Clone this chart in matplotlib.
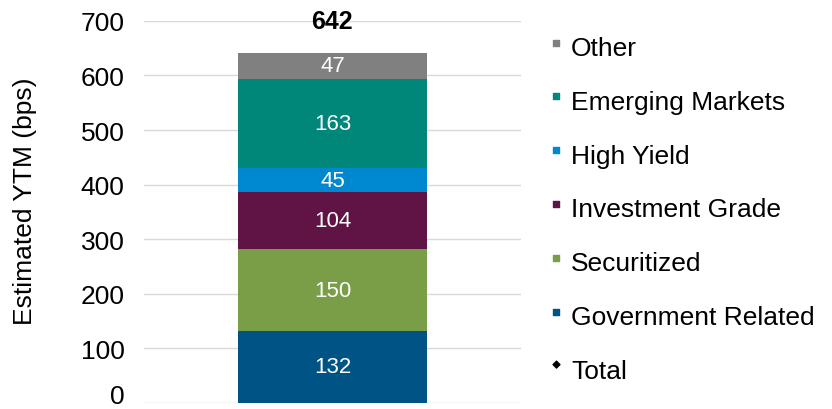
import matplotlib.pyplot as plt
import matplotlib.transforms as mtransforms
from matplotlib.lines import Line2D
from matplotlib.path import Path

# data (bottom to top)
sectors = ['Government Related', 'Securitized', 'Investment Grade',
           'High Yield', 'Emerging Markets', 'Other']
ytm_bps = [132, 150, 104, 45, 163, 47]
total_bps = 642
colors = ['#005385', '#7A9D48', '#5F1445', '#0088CE', '#00877A', '#808080']
y_ticks = [0, 100, 200, 300, 400, 500, 600, 700]

plt.rcParams['font.family'] = ['Liberation Sans', 'DejaVu Sans']

fig = plt.figure(figsize=(8.32, 4.10), dpi=100)
ax = fig.add_axes([0.173, 0.0146, 0.453, 0.932])

# stacked bar
bottom = 0
for name, val, col in zip(sectors, ytm_bps, colors):
    ax.bar(0, val, width=1.0, bottom=bottom, color=col, zorder=3)
    ax.text(0, bottom + val / 2, str(val), ha='center', va='center',
            color='white', fontsize=16, zorder=4)
    bottom += val

# total label above the stack
ax.text(0, 700, str(total_bps), ha='center', va='center',
        fontsize=18, fontweight='bold', color='black')

ax.set_xlim(-1, 1)
ax.set_ylim(0, 700)
ax.set_yticks(y_ticks)
ax.set_xticks([])
ax.tick_params(axis='y', length=0, pad=14, labelsize=19)
ax.grid(axis='y', color='#D9D9D9', linewidth=1, zorder=0)
for s in ax.spines.values():
    s.set_visible(False)
ax.set_ylabel('Estimated YTM (bps)', fontsize=19)
ax.yaxis.set_label_coords(-0.285, 0.531)

# the "0" label would hang off the bottom edge, nudge it up a little
zero_lbl = ax.get_yticklabels()[0]
zero_lbl.set_transform(zero_lbl.get_transform() +
                       mtransforms.ScaledTranslation(0, 7 / 72, fig.dpi_scale_trans))

# legend markers sit a little above the text centre, like the original
sq = Path([(-0.3, 0.0), (0.3, 0.0), (0.3, 0.6), (-0.3, 0.6), (-0.3, 0.0)],
          closed=True)
dia = Path([(0, 0.15), (0.35, 0.5), (0, 0.85), (-0.35, 0.5), (0, 0.15)],
           closed=True)
handles = [Line2D([], [], marker=sq, linestyle='none', color=c,
                  markersize=9) for c in colors[::-1]]
handles.append(Line2D([], [], marker=dia, linestyle='none', color='black',
                      markersize=12))
labels = sectors[::-1] + ['Total']
fig.legend(handles, labels, loc='upper left', bbox_to_anchor=(0.6625, 0.910),
           frameon=False, fontsize=19, labelspacing=1.13, handlelength=0.4,
           handletextpad=0.35, borderaxespad=0, borderpad=0)

fig.savefig('out.png', dpi=100)
